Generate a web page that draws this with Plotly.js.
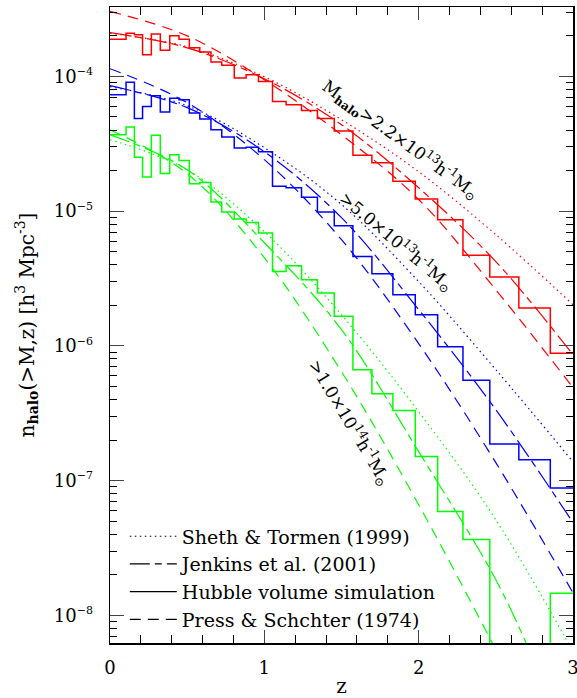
<!DOCTYPE html>
<html><head><meta charset="utf-8">
<script src="https://cdn.plot.ly/plotly-3.0.1.min.js"></script>
<style>html,body{margin:0;padding:0;background:#fff}</style>
</head><body><div id="chart" style="width:577px;height:698px"></div>
<script>
// Light-cone shell edges (redshift) shared by all three histograms
const binEdges = [0, 0.104, 0.158, 0.211, 0.268, 0.326, 0.387, 0.447, 0.514, 0.582, 0.654, 0.724, 0.805, 0.882, 0.962, 1.053, 1.141, 1.241, 1.344, 1.453, 1.574, 1.697, 1.833, 1.978, 2.123, 2.287, 2.461, 2.649, 2.853, 3.0];

// Hubble volume simulation counts n(>M,z) per shell
const histRed = [1.89e-4, 2.09e-4, 2.04e-4, 1.45e-4, 2.06e-4, 1.56e-4, 2.00e-4, 1.89e-4, 1.63e-4, 1.52e-4, 1.28e-4, 1.21e-4, 9.73e-5, 1.03e-4, 9.18e-5, 6.52e-5, 6.17e-5, 5.59e-5, 4.86e-5, 3.93e-5, 2.60e-5, 2.29e-5, 1.67e-5, 1.23e-5, 8.64e-6, 4.71e-6, 3.24e-6, 1.91e-6, 8.83e-7];
const histBlue = [7.31e-5, 9.03e-5, 4.86e-5, 5.99e-5, 7.19e-5, 5.44e-5, 6.89e-5, 6.72e-5, 5.35e-5, 4.83e-5, 4.02e-5, 3.55e-5, 2.94e-5, 2.98e-5, 2.76e-5, 1.53e-5, 1.49e-5, 1.27e-5, 9.86e-6, 7.80e-6, 4.61e-6, 3.43e-6, 2.40e-6, 1.70e-6, 9.86e-7, 5.55e-7, 1.87e-7, 1.43e-7, 8.82e-8];
const histGreen = [3.69e-5, 4.21e-5, 2.51e-5, 1.79e-5, 3.65e-5, 1.90e-5, 2.62e-5, 2.38e-5, 1.60e-5, 1.63e-5, 1.17e-5, 9.86e-6, 8.74e-6, 8.25e-6, 6.88e-6, 3.57e-6, 3.94e-6, 3.10e-6, 2.47e-6, 1.66e-6, 6.66e-7, 4.42e-7, 3.32e-7, 1.51e-7, 5.91e-8, 3.65e-8, 0, 0, 1.46e-8];

// Analytic predictions read at these redshifts
const zModel = [0, 0.5, 1, 1.5, 2, 2.5, 3];
const psRed  = [3.04e-4, 2.00e-4, 9.45e-5, 3.69e-5, 1.22e-5, 2.61e-6, 4.90e-7];
const jenRed = [2.11e-4, 1.63e-4, 9.61e-5, 4.38e-5, 1.49e-5, 4.22e-6, 8.60e-7];
const stRed  = [2.09e-4, 1.66e-4, 9.95e-5, 4.77e-5, 1.96e-5, 6.69e-6, 2.02e-6];
const psBlue  = [1.14e-4, 6.38e-5, 2.41e-5, 6.14e-6, 1.04e-6, 1.36e-7, 1.47e-8];
const jenBlue = [8.53e-5, 5.86e-5, 2.76e-5, 8.94e-6, 1.86e-6, 3.36e-7, 4.88e-8];
const stBlue  = [8.39e-5, 6.06e-5, 2.96e-5, 1.12e-5, 3.00e-6, 6.66e-7, 1.38e-7];
const zPsGreen = [0, 0.5, 1, 1.5, 2, 2.5];
const psGreen  = [4.02e-5, 1.90e-5, 4.51e-6, 6.43e-7, 6.63e-8, 5.56e-9];
const zJenGreen = [0, 0.5, 1, 1.5, 2, 2.5, 2.75];
const jenGreen  = [3.69e-5, 2.03e-5, 5.83e-6, 1.32e-6, 1.64e-7, 1.84e-8, 4.53e-9];
const stGreen  = [3.39e-5, 2.03e-5, 7.04e-6, 1.70e-6, 3.25e-7, 5.13e-8, 5.38e-9];

// Axis ticks
const xTickVals = [0, 1, 2, 3];
const xTickText = ["0", "1", "2", "3"];
const yTickVals = [1e-8, 1e-7, 1e-6, 1e-5, 1e-4];
const yTickText = ["10<sup><span style='font-size:11px'>−8</span></sup>", "10<sup><span style='font-size:11px'>−7</span></sup>",
                   "10<sup><span style='font-size:11px'>−6</span></sup>", "10<sup><span style='font-size:11px'>−5</span></sup>",
                   "10<sup><span style='font-size:11px'>−4</span></sup>"];

const legendNames = ["Sheth & Tormen (1999)", "Jenkins et al. (2001)", "Hubble volume simulation", "Press & Schchter (1974)"];
const massLabels = [
  "M<sub><b>halo</b></sub>>2.2×10<sup>13</sup>h<sup>-1</sup>M<sub>⊙</sub>",
  ">5.0×10<sup>13</sup>h<sup>-1</sup>M<sub>⊙</sub>",
  ">1.0×10<sup>14</sup>h<sup>-1</sup>M<sub>⊙</sub>"
];

const DOT = "1.5px,3.5px", JEN = "20px,5px,7px,5px", PS = "11px,7px";
const FONT = "DejaVu Serif";

function hist(vals, color) {
  const y = vals.map(v => v > 0 ? v : 1e-12);
  y.push(y[y.length - 1]);
  return {x: binEdges, y: y, mode: "lines", line: {shape: "hv", color: color, width: 1.5}, showlegend: false, hoverinfo: "skip"};
}
function curve(x, y, color, dash) {
  return {x: x, y: y, mode: "lines", line: {shape: "spline", color: color, width: 1.2, dash: dash}, showlegend: false, hoverinfo: "skip"};
}
const R = "#ff0000", B = "#0000ff", G = "#00ff00";
const traces = [
  hist(histRed, R), curve(zModel, psRed, R, PS), curve(zModel, jenRed, R, JEN), curve(zModel, stRed, R, DOT),
  hist(histBlue, B), curve(zModel, psBlue, B, PS), curve(zModel, jenBlue, B, JEN), curve(zModel, stBlue, B, DOT),
  hist(histGreen, G), curve(zPsGreen, psGreen, G, PS), curve(zJenGreen, jenGreen, G, JEN), curve(zModel, stGreen, G, DOT)
];
const legDash = [DOT, JEN, "solid", PS];
legendNames.forEach((n, i) => traces.push({x: [null], y: [null], mode: "lines", name: n, line: {color: "black", width: 1.2, dash: legDash[i]}, legendgroup: "g" + i}));

const layout = {
  width: 577, height: 698,
  margin: {l: 110, r: 4, t: 7, b: 55},
  paper_bgcolor: "white", plot_bgcolor: "white",
  font: {family: FONT, color: "black", size: 18},
  showlegend: true,
  legend: {x: 0.032, y: 0.1975, xanchor: "left", yanchor: "top", bgcolor: "rgba(0,0,0,0)", borderwidth: 0,
           font: {family: FONT, size: 19}, tracegroupgap: 0, itemwidth: 47},
  xaxis: {range: [0, 3], tickmode: "array", tickvals: xTickVals, ticktext: xTickText, ticks: "inside", ticklen: 13, tickwidth: 1, mirror: "allticks",
          showline: true, linewidth: 1.5, linecolor: "black", showgrid: false, zeroline: false,
          minor: {tickmode: "linear", tick0: 0, dtick: 0.2, ticks: "inside", ticklen: 8, tickwidth: 1, tickcolor: "black", showgrid: false},
          ticklabelstandoff: 8, ticklabeloverflow: "allow", tickfont: {family: FONT, size: 18},
          title: {text: "z", font: {family: FONT, size: 20}, standoff: 10}},
  yaxis: {type: "log", range: [-8.205, -3.485], tickmode: "array", tickvals: yTickVals, ticktext: yTickText, ticks: "inside", ticklen: 14, tickwidth: 1,
          mirror: "allticks", showline: true, linewidth: 1.5, linecolor: "black", showgrid: false, zeroline: false,
          minor: {tickmode: "linear", dtick: "D1", ticks: "inside", ticklen: 7, tickwidth: 1, tickcolor: "black", showgrid: false},
          ticklabelstandoff: 12, ticklabeloverflow: "allow", tickfont: {family: FONT, size: 18},
          title: {text: "n<sub><b>halo</b></sub>(>M,z) [h<sup>3</sup> Mpc<sup>-3</sup>]", font: {family: FONT, size: 20}, standoff: 14}},
  annotations: [
    {xref: "paper", yref: "paper", x: 0.627, y: 0.791, xanchor: "center", yanchor: "middle", text: massLabels[0], showarrow: false, textangle: 36, font: {family: FONT, size: 17}},
    {xref: "paper", yref: "paper", x: 0.618, y: 0.631, xanchor: "center", yanchor: "middle", text: massLabels[1], showarrow: false, textangle: 40, font: {family: FONT, size: 17}},
    {xref: "paper", yref: "paper", x: 0.517, y: 0.346, xanchor: "center", yanchor: "middle", text: massLabels[2], showarrow: false, textangle: 59, font: {family: FONT, size: 17}}
  ]
};
Plotly.newPlot("chart", traces, layout, {staticPlot: true, displayModeBar: false});
</script></body></html>
